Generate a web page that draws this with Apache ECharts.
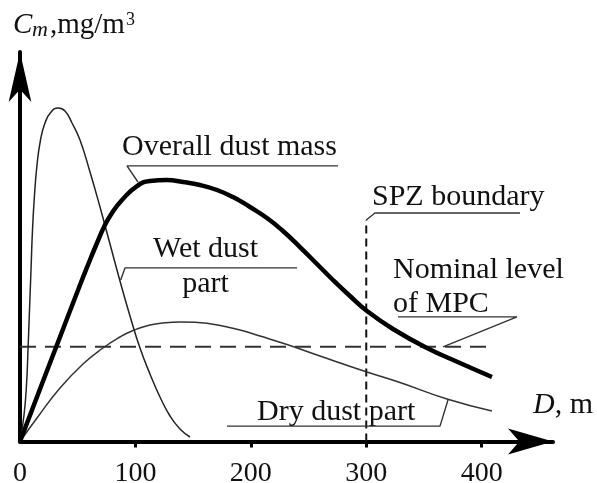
<!DOCTYPE html>
<html><head><meta charset="utf-8">
<script src="https://cdn.jsdelivr.net/npm/echarts@6/dist/echarts.min.js"></script>
<style>html,body{margin:0;padding:0;background:#fff}#c{width:597px;height:483px}</style>
</head><body><div id="c"></div>
<script>
// ---- data (D in m, C in arbitrary units of the figure) ----
const xTickLabels = [0, 100, 200, 300, 400];
const xTickMarks = [100, 200, 300, 400];

const overallD = [0, 17.33, 34.65, 51.98, 60.64, 66.71, 72.78, 79.65, 88.37, 101.36, 112.62, 127.35, 141.21, 155.94, 170.67, 184.53, 199.26, 213.98, 227.84, 242.57, 257.3, 271.16, 285.89, 300.62, 323.14, 352.6, 381.18, 408.91];
const overallC = [0, 14.36, 28.59, 42.82, 49.66, 54.31, 58.69, 62.52, 66.07, 69.9, 71.27, 71.55, 71.0, 70.18, 68.81, 66.89, 64.16, 61.15, 57.59, 53.21, 48.56, 44.19, 39.81, 35.7, 30.78, 25.58, 21.48, 17.65];

const wetD = [0, 3.47, 5.63, 6.93, 8.23, 9.53, 10.83, 12.56, 14.73, 17.76, 21.66, 26.86, 32.93, 38.99, 45.05, 51.98, 60.65, 69.31, 77.97, 86.63, 95.29, 103.96, 112.62, 121.29, 129.95, 138.61, 147.28];
const wetC = [0, 7.25, 15.46, 25.03, 35.98, 46.92, 57.87, 67.44, 75.65, 82.49, 87.14, 90.15, 91.24, 90.42, 87.14, 82.49, 73.74, 64.16, 54.04, 43.91, 34.34, 25.58, 18.47, 12.17, 6.98, 3.42, 1.23];

const dryD = [0, 14.73, 34.65, 54.58, 71.91, 86.63, 97.03, 112.62, 125.62, 138.61, 151.61, 164.6, 177.6, 190.59, 207.92, 231.31, 259.9, 300.62, 329.21, 369.93, 408.91];
const dryC = [0, 6.43, 14.64, 21.2, 25.58, 28.59, 30.23, 31.87, 32.48, 32.69, 32.61, 32.2, 31.46, 30.51, 28.86, 26.54, 23.39, 19.02, 16.14, 11.63, 8.35];

const mpcD = [0, 407];
const mpcC = [25.9, 25.9];
const spzD = [300, 300];
const spzC = [0, 60.6];

const overallLeaderD = [102.2, 92.7, 275.5];
const overallLeaderC = [71.0, 75.4, 75.4];
const wetLeaderD = [87.2, 91.0, 240.0];
const wetLeaderC = [44.2, 47.5, 47.5];
const spzLeaderD = [300, 307.5, 433.2];
const spzLeaderC = [60.6, 62.5, 62.5];
const mpcLeaderD = [366.5, 430.6, 327.5];
const mpcLeaderC = [25.9, 34.1, 34.1];
const dryLeaderD = [370.8, 363.9, 179.3];
const dryLeaderC = [11.35, 4.2, 4.2];

// ---- chart ----
const pairs = (xs, ys) => xs.map((x, i) => [x, ys[i]]);
const FF = '"Liberation Serif", "Times New Roman", serif';
const chart = echarts.init(document.getElementById('c'), null, {renderer: 'canvas'});

function leader(xs, ys) {
  return {type: 'line', data: pairs(xs, ys), symbol: 'none', silent: true,
    lineStyle: {color: '#333', width: 1.4}, z: 3};
}
function txt(x, y, text, size, extra) {
  return Object.assign({type: 'text', x: x, y: y, silent: true,
    style: Object.assign({text: text, fill: '#111', font: size + 'px ' + FF,
      fontSize: size, fontFamily: FF,
      align: 'left', verticalAlign: 'middle', textAlign: 'left', textVerticalAlign: 'middle'}, extra || {})});
}

const option = {
  animation: false,
  backgroundColor: '#fff',
  grid: {left: 20, right: 44, top: 52, bottom: 41.5, containLabel: false, outerBoundsMode: 'none'},
  xAxis: {
    type: 'value', min: 0, max: 461.8,
    axisLine: {show: true, onZero: false, symbol: ['none', 'arrow'], symbolSize: [19.5, 45],
      lineStyle: {color: '#000', width: 4}},
    axisTick: {show: true, customValues: xTickMarks, length: 6, lineStyle: {color: '#000', width: 3}},
    axisLabel: {show: true, customValues: xTickLabels, margin: 18, color: '#111', fontSize: 28, fontFamily: FF},
    splitLine: {show: false}
  },
  yAxis: {
    type: 'value', min: 0, max: 106.57,
    axisLine: {show: true, onZero: false, symbol: ['none', 'arrow'], symbolSize: [17, 50],
      lineStyle: {color: '#000', width: 4}},
    axisTick: {show: false}, axisLabel: {show: false}, splitLine: {show: false}
  },
  series: [
    {name: 'Nominal level of MPC', type: 'line', data: pairs(mpcD, mpcC), symbol: 'none', silent: true,
      lineStyle: {color: '#333', width: 2, type: [16, 9]}, z: 2},
    {name: 'SPZ boundary', type: 'line', data: pairs(spzD, spzC), symbol: 'none', silent: true,
      lineStyle: {color: '#111', width: 2, type: [8, 5]}, z: 2},
    {name: 'Dry dust part', type: 'line', data: pairs(dryD, dryC), symbol: 'none', smooth: 0.5, silent: true,
      lineStyle: {color: '#333', width: 1.5}, z: 4},
    {name: 'Wet dust part', type: 'line', data: pairs(wetD, wetC), symbol: 'none', smooth: 0.5, silent: true,
      lineStyle: {color: '#222', width: 1.5}, z: 4},
    {name: 'Overall dust mass', type: 'line', data: pairs(overallD, overallC), symbol: 'none', smooth: 0.5, silent: true,
      lineStyle: {color: '#000', width: 4.5}, z: 5},
    leader(overallLeaderD, overallLeaderC),
    leader(wetLeaderD, wetLeaderC),
    leader(spzLeaderD, spzLeaderC),
    leader(mpcLeaderD, mpcLeaderC),
    leader(dryLeaderD, dryLeaderC)
  ],
  graphic: {elements: [
    // y-axis name: C_m, mg/m^3
    txt(13, 25.5, 'C', 29, {fontStyle: 'italic', font: 'italic 29px ' + FF}),
    txt(32, 30, 'm', 22, {fontStyle: 'italic', font: 'italic 22px ' + FF}),
    txt(50, 25.5, ',mg/m', 29),
    txt(126, 20.7, '3', 18),
    // x-axis name: D, m
    {type: 'text', x: 533, y: 405.5, silent: true, style: {
      text: '{i|D}{r|, m}', fill: '#111', align: 'left', verticalAlign: 'middle',
      textAlign: 'left', textVerticalAlign: 'middle',
      rich: {i: {fontStyle: 'italic', fontSize: 30, fontFamily: FF, fill: '#111', color: '#111'},
             r: {fontSize: 30, fontFamily: FF, fill: '#111', color: '#111'}}}},
    // annotations
    txt(122, 147.5, 'Overall dust mass', 30),
    txt(205.5, 249.5, 'Wet dust', 30, {align: 'center', textAlign: 'center'}),
    txt(205.5, 284.5, 'part', 30, {align: 'center', textAlign: 'center'}),
    txt(372, 197, 'SPZ boundary', 30),
    txt(393, 270.5, 'Nominal level', 30),
    txt(393, 304, 'of MPC', 30),
    txt(257, 412, 'Dry dust part', 30)
  ]}
};
chart.setOption(option);
</script>
</body></html>
